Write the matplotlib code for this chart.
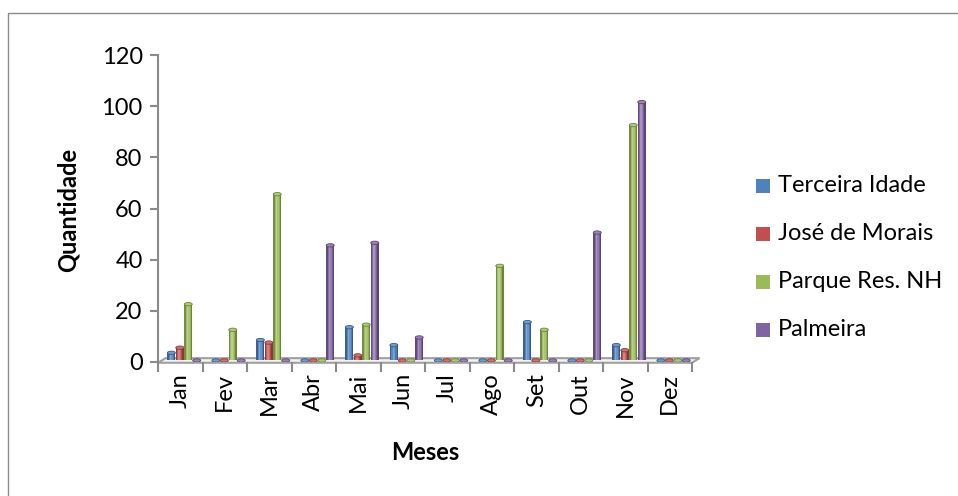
import matplotlib
matplotlib.use("Agg")
import matplotlib.pyplot as plt
from matplotlib.patches import Rectangle, Ellipse, Polygon
import numpy as np

plt.rcParams['font.family'] = ['Lato', 'DejaVu Sans']

months = ["Jan", "Fev", "Mar", "Abr", "Mai", "Jun", "Jul", "Ago", "Set", "Out", "Nov", "Dez"]
series_names = ["Terceira Idade", "José de Morais", "Parque Res. NH", "Palmeira"]
terceira_idade = [3, 0, 8, 0, 13, 6, 0, 0, 15, 0, 6, 0]
jose_de_morais = [5, 0, 7, 0, 2, 0, 0, 0, 0, 0, 4, 0]
parque_res_nh = [22, 12, 65, 0, 14, 0, 0, 37, 12, 0, 92, 0]
palmeira = [0, 0, 0, 45, 46, 9, 0, 0, 0, 50, 101, 0]
series_values = [terceira_idade, jose_de_morais, parque_res_nh, palmeira]
colors = ["#4F81BD", "#C0504D", "#9BBB59", "#8064A2"]
y_ticks = [0, 20, 40, 60, 80, 100, 120]

W, H = 958, 496
fig = plt.figure(figsize=(W / 100, H / 100), dpi=100)

# chart area frame
fig.add_artist(Rectangle((8 / W, -0.05), 1.1, 1 - 13 / H + 0.05, transform=fig.transFigure,
                         fill=False, edgecolor="#8a8a8a", linewidth=1.0))

ax = fig.add_axes([158 / W, (H - 362) / H, 534 / W, 307 / H])
ax.set_xlim(0, 12)
ax.set_ylim(0, 120)
ax.patch.set_alpha(0)

def shade(c, f):
    c = np.array(matplotlib.colors.to_rgb(c))
    if f >= 0:
        return tuple(c + (1 - c) * f)
    return tuple(c * (1 + f))

# floor of the 3-D plot
dx, dy = 0.17, 1.5
floor = Polygon([(0, -0.3), (12, -0.3), (12 + dx, dy), (dx, dy)], closed=True,
                facecolor="#f4f4f4", edgecolor="#a0a0a0", linewidth=1.5,
                clip_on=False, zorder=1)
ax.add_patch(floor)

bw = 0.18
base = 0.6
offsets = [0.30, 0.49, 0.68, 0.87]
strip_f = [-0.25, 0.05, 0.3, 0.15, -0.05, -0.3]
n_strips = len(strip_f)
x = np.arange(len(months))
for k, (vals, col) in enumerate(zip(series_values, colors)):
    vals = np.array(vals, dtype=float)
    xc = x + offsets[k]
    sw = bw / n_strips
    for s, f in enumerate(strip_f):
        ax.bar(xc - bw / 2 + sw * (s + 0.5), vals, width=sw, bottom=base,
               color=shade(col, f), linewidth=0, zorder=3 + k * 0.01)
    for xi, v in zip(xc, vals):
        ax.add_patch(Ellipse((xi, v + base), bw, 1.3, facecolor=shade(col, 0.2),
                             edgecolor=shade(col, -0.3), linewidth=0.6,
                             zorder=3.5 + k * 0.01))

for sp in ["top", "right", "bottom"]:
    ax.spines[sp].set_visible(False)
ax.spines["left"].set_color("#8a8a8a")
ax.spines["left"].set_linewidth(1.5)

ax.set_yticks(y_ticks)
ax.set_yticklabels([str(t) for t in y_ticks])
ax.tick_params(axis="y", direction="out", length=6, width=1.5, color="#8a8a8a",
               labelsize=17, pad=5)

ax.set_xticks(np.arange(13))
ax.set_xticklabels([])
ax.tick_params(axis="x", which="major", direction="out", length=7, width=1.5,
               color="#8a8a8a")
ax.set_xticks(x + 0.5, minor=True)
ax.set_xticklabels(months, minor=True, rotation=90, fontsize=17)
ax.tick_params(axis="x", which="minor", length=0, pad=8)

fig.text(425 / W, 1 - 452 / H, "Meses", ha="center", va="center",
         fontsize=17, fontweight="bold")
fig.text(68 / W, 1 - 210 / H, "Quantidade", ha="center", va="center",
         rotation=90, fontsize=17, fontweight="bold")

# legend
rows_y = [186, 234, 282, 330]
sq = 14
for name, col, yy in zip(series_names, colors, rows_y):
    fig.add_artist(Rectangle((756 / W, (H - yy - sq / 2) / H), sq / W, sq / H,
                             transform=fig.transFigure, facecolor=col, edgecolor="none"))
    fig.text(778 / W, (H - yy) / H, name, ha="left", va="center", fontsize=17)

fig.savefig("out.png", dpi=100)
